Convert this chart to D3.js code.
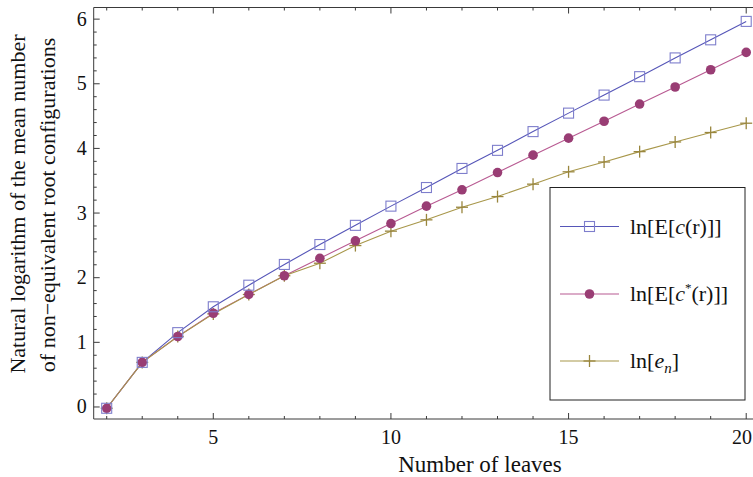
<!DOCTYPE html>
<html><head><meta charset="utf-8">
<script src="https://cdn.jsdelivr.net/npm/d3@7"></script>
<style>
html,body{margin:0;padding:0;background:#fff;}
svg{display:block;font-family:"Liberation Serif","Times New Roman",serif;}
</style></head>
<body><svg id="c" width="753" height="477"></svg>
<script>
const leaves = [2,3,4,5,6,7,8,9,10,11,12,13,14,15,16,17,18,19,20];
const lnEc = [-0.02,0.69,1.15,1.55,1.884,2.205,2.513,2.81,3.107,3.395,3.69,3.97,4.26,4.546,4.825,5.11,5.40,5.68,5.965];
const lnEcStar = [-0.02,0.69,1.09,1.45,1.742,2.03,2.30,2.57,2.838,3.107,3.36,3.627,3.896,4.159,4.42,4.686,4.95,5.217,5.485];
const lnEn = [-0.02,0.69,1.09,1.44,1.74,2.03,2.224,2.497,2.72,2.895,3.09,3.255,3.447,3.638,3.79,3.95,4.10,4.246,4.39];
const xTicks = [5,10,15,20];
const yTicks = [0,1,2,3,4,5,6];

const svg = d3.select("#c");
const L=93.7, T=7.5, B=419, R=759;
const x = d3.scaleLinear().domain([1.634,20.36]).range([L,R]);
const y = d3.scaleLinear().domain([-0.186,6.18]).range([B,T]);
const frame = "#3a3a3a";

const g = svg.append("g");
g.append("line").attr("x1",L).attr("x2",753).attr("y1",B).attr("y2",B).attr("stroke",frame);
g.append("line").attr("x1",L).attr("x2",753).attr("y1",T).attr("y2",T).attr("stroke",frame);
g.append("line").attr("x1",L).attr("x2",L).attr("y1",T).attr("y2",B).attr("stroke",frame);

d3.range(2,21).forEach(v=>{
  const len = (v%5===0)?6:3;
  g.append("line").attr("x1",x(v)).attr("x2",x(v)).attr("y1",B).attr("y2",B-len).attr("stroke",frame);
  g.append("line").attr("x1",x(v)).attr("x2",x(v)).attr("y1",T).attr("y2",T+len).attr("stroke",frame);
});
d3.range(0,31).map(i=>i*0.2).forEach((v,i)=>{
  const len = (i%5===0)?6:3;
  g.append("line").attr("x1",L).attr("x2",L+len).attr("y1",y(v)).attr("y2",y(v)).attr("stroke",frame);
});
xTicks.forEach(v=>{
  const t = g.append("text").attr("y",B+25).attr("font-size",20).attr("fill","#111").text(v);
  if (x(v) + 11 > 753) t.attr("x",752).attr("text-anchor","end");
  else t.attr("x",x(v)).attr("text-anchor","middle");
});
yTicks.forEach(v=>{
  g.append("text").attr("x",L-7).attr("y",y(v)+6.5).attr("text-anchor","end")
   .attr("font-size",20).attr("fill","#111").text(v);
});

svg.append("text").attr("x",480).attr("y",472).attr("text-anchor","middle")
  .attr("font-size",23).attr("fill","#111").text("Number of leaves");
svg.append("text").attr("transform","translate(25,204) rotate(-90)").attr("text-anchor","middle")
  .attr("font-size",22).attr("fill","#111").text("Natural logarithm of the mean number");
svg.append("text").attr("transform","translate(55,205) rotate(-90)").attr("text-anchor","middle")
  .attr("font-size",22).attr("fill","#111").text("of non\u2212equivalent root configurations");

const series = [
  {vals:lnEc, line:"#5656b8", mark:"#7e7ecc", type:"square"},
  {vals:lnEcStar, line:"#b85a92", mark:"#993d74", type:"circle"},
  {vals:lnEn, line:"#a8974a", mark:"#99863d", type:"plus"}
];
const plot = svg.append("g");
function drawMarker(sel, type, col, cx, cy){
  if(type==="square"){
    sel.append("rect").attr("x",cx-5).attr("y",cy-5).attr("width",10).attr("height",10)
      .attr("fill","none").attr("stroke",col).attr("stroke-width",1.1);
  } else if(type==="circle"){
    sel.append("circle").attr("cx",cx).attr("cy",cy).attr("r",4.8).attr("fill",col);
  } else {
    sel.append("line").attr("x1",cx-6).attr("x2",cx+6).attr("y1",cy).attr("y2",cy).attr("stroke",col).attr("stroke-width",1.3);
    sel.append("line").attr("x1",cx).attr("x2",cx).attr("y1",cy-6).attr("y2",cy+6).attr("stroke",col).attr("stroke-width",1.3);
  }
}
const lineGen = d3.line().x((d,i)=>x(leaves[i])).y(d=>y(d));
series.forEach(s=>{
  plot.append("path").datum(s.vals).attr("d",lineGen).attr("fill","none").attr("stroke",s.line).attr("stroke-width",1.1);
});
series.slice().reverse().forEach(s=>{
  s.vals.forEach((v,i)=>drawMarker(plot, s.type, s.mark, x(leaves[i]), y(v)));
});

const lg = svg.append("g");
lg.append("rect").attr("x",550).attr("y",187.5).attr("width",195).attr("height",212.5)
  .attr("fill","#fff").attr("stroke","#222").attr("stroke-width",1);
const rows = [226.5, 294, 361];
const fs = 22;
series.forEach((s,i)=>{
  lg.append("line").attr("x1",560).attr("x2",619).attr("y1",rows[i]).attr("y2",rows[i]).attr("stroke",s.line).attr("stroke-width",1.1);
  drawMarker(lg, s.type, s.mark, 589.5, rows[i]);
});
const t1 = lg.append("text").attr("x",630).attr("y",rows[0]+7).attr("font-size",fs).attr("fill","#111");
t1.append("tspan").text("ln[E[");
t1.append("tspan").attr("font-style","italic").text("c");
t1.append("tspan").text("(r)]]");
const t2 = lg.append("text").attr("x",630).attr("y",rows[1]+7).attr("font-size",fs).attr("fill","#111");
t2.append("tspan").text("ln[E[");
t2.append("tspan").attr("font-style","italic").text("c");
t2.append("tspan").attr("font-size",13).attr("dy",-9).text("*");
t2.append("tspan").attr("dy",9).text("(r)]]");
const t3 = lg.append("text").attr("x",630).attr("y",rows[2]+7).attr("font-size",fs).attr("fill","#111");
t3.append("tspan").text("ln[");
t3.append("tspan").attr("font-style","italic").text("e");
t3.append("tspan").attr("font-style","italic").attr("font-size",15).attr("dy",5).text("n");
t3.append("tspan").attr("dy",-5).text("]");
</script></body></html>
